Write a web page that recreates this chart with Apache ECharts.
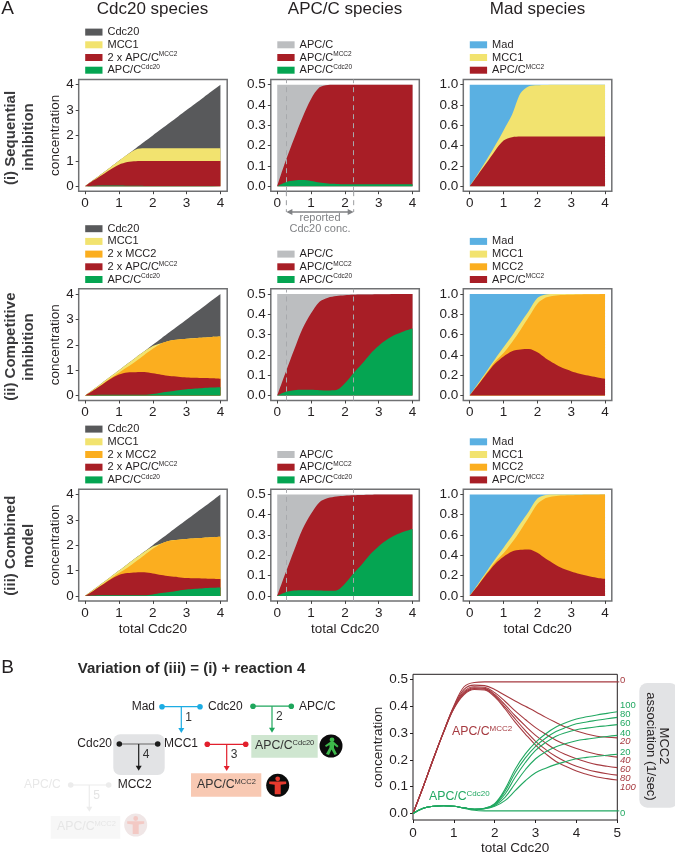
<!DOCTYPE html>
<html><head><meta charset="utf-8">
<style>html,body{margin:0;padding:0;background:#fff}#c{width:675px;height:856px}</style>
<script src="https://cdn.jsdelivr.net/npm/echarts@6/dist/echarts.min.js"></script>
</head><body><div id="c"></div>
<script>
// ---------- shared abscissae ----------
const xs  = [0,.25,.5,.75,1,1.25,1.5,1.75,2,2.25,2.5,2.75,3,3.25,3.5,3.75,4];
const xsB = [0,.25,.5,.75,1,1.25,1.5,1.75,2,2.25,2.5,2.75,3,3.25,3.5,3.75,4,4.25,4.5,4.75,5];
const reportedCdc20 = [.27, 2.26];

// ---------- row (i) ----------
const r1c1Green  = [0,.02,.028,.03,.026,.018,.013,.011,.01,.01,.01,.01,.01,.01,.01,.01,.01];
const r1c1Red    = [0,.21,.417,.63,.824,.937,.972,.979,.98,.98,.98,.98,.98,.98,.98,.98,.98];
const r1c1Yellow = [0,.02,.055,.09,.15,.29,.465,.505,.51,.51,.51,.51,.51,.51,.51,.51,.51];
const r1c1Grey   = [0,0,0,0,0,.005,.05,.255,.5,.75,1,1.25,1.5,1.75,2,2.25,2.5];
const r1c2Green  = [0,.02,.028,.03,.026,.018,.013,.011,.01,.01,.01,.01,.01,.01,.01,.01,.01];
const r1c2Red    = [0,.105,.207,.31,.404,.469,.486,.489,.49,.49,.49,.49,.49,.49,.49,.49,.49];
const r1c2Grey   = [.5,.375,.265,.16,.07,.013,.001,0,0,0,0,0,0,0,0,0,0];
const r1c3Red    = [0,.115,.23,.35,.45,.483,.49,.49,.49,.49,.49,.49,.49,.49,.49,.49,.49];
const r1c3Yellow = [0,.012,.03,.05,.1,.22,.425,.495,.505,.508,.51,.51,.51,.51,.51,.51,.51];
const r1c3Blue   = [1,.873,.74,.6,.45,.297,.085,.015,.005,.002,0,0,0,0,0,0,0];

// ---------- row (ii) ----------
const r2c1Green  = [0,.018,.026,.028,.028,.026,.025,.027,.06,.11,.155,.205,.245,.277,.30,.317,.33];
const r2c1Red    = [0,.19,.40,.62,.80,.885,.895,.898,.815,.71,.61,.535,.465,.418,.385,.36,.33];
const r2c1Orange = [0,0,.01,.03,.07,.21,.43,.675,.965,1.23,1.39,1.465,1.525,1.565,1.598,1.631,1.663];
const r2c1Yellow = [0,.04,.06,.07,.1,.13,.15,.14,.11,.01,.005,.002,.002,.002,.002,.002,.002];
const r2c1Grey   = [0,0,0,0,0,0,0,0,.05,.19,.34,.54,.76,.99,1.215,1.445,1.675];
const r2c2Green  = [0,.018,.026,.028,.028,.026,.025,.027,.06,.11,.155,.205,.245,.277,.30,.317,.33];
const r2c2Red    = [0,.097,.199,.302,.377,.436,.457,.463,.434,.386,.342,.293,.254,.222,.2,.183,.17];
const r2c2Grey   = [.5,.385,.275,.17,.095,.038,.018,.01,.006,.004,.003,.002,.001,.001,0,0,0];
const r2c3Red    = [0,.105,.215,.315,.385,.437,.454,.457,.425,.365,.315,.27,.24,.215,.197,.18,.165];
const r2c3Orange = [0,.003,.01,.02,.035,.088,.191,.318,.48,.6,.668,.72,.753,.78,.8,.818,.835];
const r2c3Yellow = [0,.012,.015,.025,.055,.065,.07,.06,.055,.03,.017,.01,.007,.005,.003,.002,0];
const r2c3Blue   = [1,.88,.76,.64,.525,.41,.285,.165,.04,.005,0,0,0,0,0,0,0];

// ---------- row (iii) ----------
const r3c1Green  = [0,.018,.026,.028,.028,.026,.025,.027,.06,.11,.155,.208,.248,.28,.305,.322,.335];
const r3c1Red    = [0,.19,.40,.62,.80,.875,.9,.905,.825,.715,.615,.532,.457,.415,.38,.35,.325];
const r3c1Orange = [0,0,.01,.03,.07,.21,.43,.675,.975,1.235,1.4,1.47,1.535,1.575,1.61,1.64,1.67];
const r3c1Yellow = [0,.04,.06,.07,.1,.14,.145,.135,.09,.01,.005,.002,.002,.002,.002,.002,.002];
const r3c1Grey   = [0,0,0,0,0,0,0,.005,.05,.18,.325,.54,.76,.98,1.2,1.43,1.67];
const r3c2Green  = [0,.018,.026,.028,.028,.026,.025,.027,.06,.11,.155,.205,.245,.277,.30,.317,.33];
const r3c2Red    = [0,.097,.199,.302,.377,.436,.457,.463,.434,.386,.342,.293,.254,.222,.2,.183,.17];
const r3c2Grey   = [.5,.385,.275,.17,.095,.038,.018,.01,.006,.004,.003,.002,.001,.001,0,0,0];
const r3c3Red    = [0,.105,.215,.315,.385,.437,.454,.457,.425,.365,.315,.27,.24,.215,.197,.18,.168];
const r3c3Orange = [0,.003,.01,.02,.035,.088,.191,.318,.48,.6,.668,.72,.753,.78,.8,.818,.832];
const r3c3Yellow = [0,.012,.015,.025,.055,.065,.07,.06,.055,.03,.017,.01,.007,.005,.003,.002,0];
const r3c3Blue   = [1,.88,.76,.64,.525,.41,.285,.165,.04,.005,0,0,0,0,0,0,0];

// ---------- panel B ----------
const assocRates = [0,20,40,60,80,100];
const mccK0   = [0,.1,.205,.305,.40,.472,.488,.49,.49,.49,.49,.49,.49,.49,.49,.49,.49,.49,.49,.49,.49];
const mccK20  = [0,.1,.205,.305,.398,.462,.478,.476,.462,.44,.419,.399,.379,.358,.339,.321,.307,.296,.288,.284,.2816];
const mccK40  = [0,.1,.205,.305,.396,.455,.472,.47,.45,.418,.382,.35,.32,.295,.273,.256,.242,.23,.221,.215,.21];
const mccK60  = [0,.1,.204,.304,.394,.45,.468,.466,.443,.405,.364,.326,.291,.262,.237,.219,.204,.192,.182,.176,.171];
const mccK80  = [0,.1,.204,.303,.392,.446,.465,.463,.438,.397,.352,.309,.269,.238,.212,.192,.176,.164,.155,.148,.143];
const mccK100 = [0,.1,.203,.302,.39,.443,.462,.46,.434,.39,.34,.296,.255,.222,.194,.175,.158,.146,.136,.13,.125];
const cdcK0   = [0,.02,.027,.029,.027,.02,.012,.01,.01,.01,.01,.01,.01,.01,.01,.01,.01,.01,.01,.01,.01];
const cdcK20  = [0,.02,.027,.029,.027,.021,.016,.018,.027,.048,.085,.122,.152,.169,.183,.194,.204,.209,.213,.217,.221];
const cdcK40  = [0,.02,.027,.029,.027,.021,.016,.018,.03,.06,.112,.163,.204,.23,.249,.261,.271,.277,.282,.287,.291];
const cdcK60  = [0,.02,.027,.029,.027,.021,.016,.019,.033,.072,.135,.19,.235,.265,.288,.302,.312,.318,.323,.327,.331];
const cdcK80  = [0,.02,.027,.029,.027,.021,.016,.019,.035,.082,.152,.207,.25,.281,.305,.321,.334,.341,.347,.353,.358];
const cdcK100 = [0,.02,.027,.029,.027,.021,.016,.02,.037,.09,.165,.222,.265,.297,.322,.339,.352,.36,.367,.373,.379];

// ---------- styling ----------
const FONT = '"Liberation Sans", Arial, sans-serif';
const TXT = '#231f20';
const C = {grey:'#58595b', yellow:'#f2e36f', orange:'#fbae1f', red:'#a81e26', green:'#05a552', lgrey:'#bcbec0', blue:'#5ab0e2'};
const LN_RED='#a63a40', LN_GREEN='#22a862';

const colLeft = [78.7, 270.8, 463.3], colW = 148.5;
const rowTop = [79.5, 288.8, 489.2], rowH = 111.7;
const yExt = [[-.197,4.206,[0,1,2,3,4],0],[-.0247,.5257,[0,.1,.2,.3,.4,.5],1],[-.0493,1.0515,[0,.2,.4,.6,.8,1],1]];

// series: [legend name, colour, values], bottom of pile first
const panels = [
 [[['APC/C^Cdc20',C.green,r1c1Green],['2 x APC/C^MCC2',C.red,r1c1Red],['MCC1',C.yellow,r1c1Yellow],['Cdc20',C.grey,r1c1Grey]],
  [['APC/C^Cdc20',C.green,r1c2Green],['APC/C^MCC2',C.red,r1c2Red],['APC/C',C.lgrey,r1c2Grey]],
  [['APC/C^MCC2',C.red,r1c3Red],['MCC1',C.yellow,r1c3Yellow],['Mad',C.blue,r1c3Blue]]],
 [[['APC/C^Cdc20',C.green,r2c1Green],['2 x APC/C^MCC2',C.red,r2c1Red],['2 x MCC2',C.orange,r2c1Orange],['MCC1',C.yellow,r2c1Yellow],['Cdc20',C.grey,r2c1Grey]],
  [['APC/C^Cdc20',C.green,r2c2Green],['APC/C^MCC2',C.red,r2c2Red],['APC/C',C.lgrey,r2c2Grey]],
  [['APC/C^MCC2',C.red,r2c3Red],['MCC2',C.orange,r2c3Orange],['MCC1',C.yellow,r2c3Yellow],['Mad',C.blue,r2c3Blue]]],
 [[['APC/C^Cdc20',C.green,r3c1Green],['2 x APC/C^MCC2',C.red,r3c1Red],['2 x MCC2',C.orange,r3c1Orange],['MCC1',C.yellow,r3c1Yellow],['Cdc20',C.grey,r3c1Grey]],
  [['APC/C^Cdc20',C.green,r3c2Green],['APC/C^MCC2',C.red,r3c2Red],['APC/C',C.lgrey,r3c2Grey]],
  [['APC/C^MCC2',C.red,r3c3Red],['MCC2',C.orange,r3c3Orange],['MCC1',C.yellow,r3c3Yellow],['Mad',C.blue,r3c3Blue]]]
];

const grids=[],xAxes=[],yAxes=[],series=[],legends=[];
const LEG_STEP = 12.7;
panels.forEach((row,r)=>row.forEach((ps,c)=>{
  const idx=grids.length;
  grids.push({left:colLeft[c],top:rowTop[r],width:colW,height:rowH,show:true,borderColor:'#707173',borderWidth:1.5,backgroundColor:'#fff',containLabel:false});
  xAxes.push({type:'value',gridIndex:idx,min:-.19,max:4.2,splitLine:{show:false},
    axisLine:{show:false,onZero:false},
    axisTick:{length:3,lineStyle:{color:'#444',width:1},customValues:[0,1,2,3,4]},
    axisLabel:{color:TXT,fontSize:13.5,margin:5,customValues:[0,1,2,3,4],formatter:v=>String(v)},
    name:r===2?'total Cdc20':'',nameLocation:'middle',nameGap:21,nameTextStyle:{color:TXT,fontSize:13.5}});
  yAxes.push({type:'value',gridIndex:idx,min:yExt[c][0],max:yExt[c][1],splitLine:{show:false},
    axisLine:{show:false,onZero:false},
    axisTick:{length:3,lineStyle:{color:'#444',width:1},customValues:yExt[c][2]},
    axisLabel:{color:TXT,fontSize:13.5,margin:5,customValues:yExt[c][2],formatter:v=>v.toFixed(yExt[c][3])},
    name:c===0?'concentration':'',nameLocation:'middle',nameGap:12.5,nameTextStyle:{color:TXT,fontSize:13.5}});
  // each band's upper edge is the running sum; the higher bands are drawn first and the lower ones paint over them
  const run=xs.map(()=>0);
  const tops=ps.map(p=>{p[2].forEach((v,k)=>run[k]+=v);return run.slice();});
  for(let i=ps.length-1;i>=0;i--){
    const p=ps[i];
    const s={name:p[0],type:'line',xAxisIndex:idx,yAxisIndex:idx,smooth:.3,
      showSymbol:false,symbol:'none',silent:true,color:p[1],animation:false,
      lineStyle:{width:0},areaStyle:{color:p[1],opacity:1,origin:0},
      data:xs.map((x,k)=>[x,+tops[i][k].toFixed(4)])};
    if(c===1 && i===0){
      s.markLine={silent:true,symbol:'none',animation:false,label:{show:false},z:10,
        lineStyle:{color:'#a7a9ac',type:[5,4],width:1},
        data:reportedCdc20.map(v=>({xAxis:v}))};
    }
    series.push(s);
  }
  const names=ps.map(p=>p[0]).reverse();
  const firstCenter=rowTop[r]-9.3-LEG_STEP*(names.length-1);
  legends.push({orient:'vertical',left:colLeft[c]+6.5,top:firstCenter-LEG_STEP/2,padding:0,itemGap:0,
    itemWidth:17.3,itemHeight:7,icon:'rect',selectedMode:false,data:names,
    textStyle:{color:TXT,fontSize:11,lineHeight:LEG_STEP,
      rich:{a:{fontSize:11,lineHeight:LEG_STEP,color:TXT},s:{fontSize:6.5,lineHeight:LEG_STEP,color:TXT,verticalAlign:'top',padding:[0,0,0,0]}}},
    formatter:n=>{const t=n.split('^');return t[1]?`{a|${t[0]}}{s|${t[1]}}`:`{a|${n}}`;}});
}));

// panel B chart
const bIdx=grids.length;
grids.push({left:413,top:674.3,width:204.3,height:149,show:true,borderColor:'#231f20',borderWidth:1,containLabel:false});
const bTicks=[0,.1,.2,.3,.4,.5];
xAxes.push({type:'value',gridIndex:bIdx,min:0,max:5,interval:1,splitLine:{show:false},axisLine:{show:false,onZero:false},
  axisTick:{length:3,lineStyle:{color:'#231f20'}},axisLabel:{color:TXT,fontSize:13.5,margin:6},
  name:'total Cdc20',nameLocation:'middle',nameGap:21,nameTextStyle:{color:TXT,fontSize:13.5}});
yAxes.push({type:'value',gridIndex:bIdx,min:-.024,max:.5183,splitLine:{show:false},axisLine:{show:false,onZero:false},
  axisTick:{length:3,lineStyle:{color:'#231f20'},customValues:bTicks},
  axisLabel:{color:TXT,fontSize:13.5,margin:5,customValues:bTicks,formatter:v=>v.toFixed(1)},
  name:'concentration',nameLocation:'middle',nameGap:20,nameTextStyle:{color:TXT,fontSize:13.5}});
[mccK0,mccK20,mccK40,mccK60,mccK80,mccK100].forEach((v,i)=>series.push({name:'APC/C MCC2 k='+assocRates[i],type:'line',xAxisIndex:bIdx,yAxisIndex:bIdx,smooth:.4,showSymbol:false,symbol:'none',silent:true,animation:false,lineStyle:{color:LN_RED,width:1.1},data:xsB.map((x,k)=>[x,v[k]])}));
[cdcK0,cdcK20,cdcK40,cdcK60,cdcK80,cdcK100].forEach((v,i)=>series.push({name:'APC/C Cdc20 k='+assocRates[i],type:'line',xAxisIndex:bIdx,yAxisIndex:bIdx,smooth:.4,showSymbol:false,symbol:'none',silent:true,animation:false,lineStyle:{color:LN_GREEN,width:1.1},data:xsB.map((x,k)=>[x,v[k]])}));

const chart=echarts.init(document.getElementById('c'),null,{renderer:'canvas'});
chart.setOption({animation:false,textStyle:{fontFamily:FONT},grid:grids,xAxis:xAxes,yAxis:yAxes,series,legend:legends});

// ---------- annotations and diagram ----------
const g=[];
const T=(x,y,text,o={})=>{g.push({type:'text',x,y,rotation:o.rot||0,z:50,silent:true,style:{text,fill:o.fill||TXT,font:`${o.italic?'italic ':''}${o.bold?'bold ':''}${o.size||12}px ${FONT}`,textAlign:o.align||'center',textVerticalAlign:'middle',verticalAlign:'middle',rich:o.rich}});};
const supT=(x,y,a,b,fill,size=12.3,supSize=7.5,op=1)=>{g.push({type:'text',x,y,z:50,silent:true,style:{text:`{a|${a}}{s|${b}}`,verticalAlign:'middle',textVerticalAlign:'middle',textAlign:'left',
  rich:{a:{fontSize:size,fontFamily:FONT,fill,color:fill,lineHeight:15},s:{fontSize:supSize,fontFamily:FONT,fill,color:fill,lineHeight:15,verticalAlign:'top'}}}});};
const L=(x1,y1,x2,y2,col,w=1.2,dash)=>g.push({type:'line',z:40,silent:true,shape:{x1,y1,x2,y2},style:{stroke:col,lineWidth:w,lineDash:dash}});
const dot=(x,y,col,r=2.8)=>g.push({type:'circle',z:41,silent:true,shape:{cx:x,cy:y,r},style:{fill:col}});
const tri=(pts,col)=>g.push({type:'polygon',z:41,silent:true,shape:{points:pts},style:{fill:col}});
const box=(x1,y1,x2,y2,col,r=0)=>g.push({type:'rect',z:30,silent:true,shape:{x:x1,y:y1,width:x2-x1,height:y2-y1,r},style:{fill:col}});
const rxn=(x1,x2,y,ax,ay2,col,num,line)=>{L(x1,y,x2,y,line||col);L(ax,y,ax,ay2-4,col);tri([[ax-3,ay2-5],[ax+3,ay2-5],[ax,ay2]],col);dot(x1,y,col);dot(x2,y,col);T(ax+7.3,y+10.5,num,{size:12,fill:(col==='#ececec')?'#e4e4e4':'#333'});};

// headings
T(7.5,9,'A',{size:19}); T(7.5,668,'B',{size:19});
T(152.5,9.5,'Cdc20 species',{size:17}); T(345,9.5,'APC/C species',{size:17}); T(537.5,9.5,'Mad species',{size:17});
const RL='#3a3a3c', rot=Math.PI/2;
T(11,138,'(i) Sequential',{bold:1,size:15,rot,fill:RL}); T(29.3,137,'inhibition',{bold:1,size:15,rot,fill:RL});
T(11,346.7,'(ii) Competitive',{bold:1,size:15,rot,fill:RL}); T(29.3,347,'inhibition',{bold:1,size:15,rot,fill:RL});
T(11,545.7,'(iii) Combined',{bold:1,size:15,rot,fill:RL}); T(29.3,546,'model',{bold:1,size:15,rot,fill:RL});

// reported Cdc20 concentration annotation (positions follow the axis)
const px=reportedCdc20.map(v=>chart.convertToPixel({xAxisIndex:1},v));
const ANN='#808285';
px.forEach(p=>L(p,rowTop[0]+rowH,p,212,'#9a9c9f',1,[5,4]));
L(px[0]+5,212,px[1]-5,212,ANN,1.4);
tri([[px[0],212],[px[0]+6,209],[px[0]+6,215]],ANN); tri([[px[1],212],[px[1]-6,209],[px[1]-6,215]],ANN);
T((px[0]+px[1])/2,218,'reported',{size:11,fill:ANN}); T((px[0]+px[1])/2,228.6,'Cdc20 conc.',{size:11,fill:ANN});

// diagram
T(191.5,669,'Variation of (iii) = (i) + reaction 4',{bold:1,size:15,fill:'#2b2b2b'});
box(113.3,734.3,164.7,775,'#e2e3e5',7);
box(251.3,735,317.7,757.7,'#cfe6d0');
box(191,773.3,261.3,796.7,'#f8c9b3');
box(50.7,816,120.3,838.7,'#f7f7f7');
const BL='#1cace3',GN='#1ea65c',RD='#e21f2c',BK='#1c1c1c',FD='#ececec';
T(155,706.7,'Mad',{align:'right'});T(208,706.7,'Cdc20',{align:'left'});T(299,706.7,'APC/C',{align:'left'});
rxn(162,200,706.7,181.3,733,BL,'1');
rxn(253,291.3,706.2,272,732.7,GN,'2');
T(112,744,'Cdc20',{align:'right'});T(164,744,'MCC1',{align:'left'});
rxn(119.3,157.7,744,138.7,770.7,BK,'4','#666');
rxn(207.3,245.7,744.3,226.7,771,RD,'3');
T(117.7,785,'MCC2',{align:'left'});
T(24,785,'APC/C',{align:'left',fill:'#e8e8e8'});
rxn(70.7,108.7,785,89.3,811.7,FD,'5');
supT(255,746,'APC/C','Cdc20','#333');
supT(197,785,'APC/C','MCC2','#333');
supT(57,827,'APC/C','MCC2','#e6e6e6');
// traffic light men
const man=(cx,cy,kind,op=1)=>{
  g.push({type:'circle',z:42,silent:true,shape:{cx,cy,r:11.5},style:{fill:op<1?'#f0e6e6':'#0b0b0b'}});
  const col=kind==='go'?'#3db84a':(op<1?'#f3c9c4':'#e63a2e');
  const head=kind==='go'?[1,-6.2]:[0,-6.5];
  g.push({type:'circle',z:43,silent:true,shape:{cx:cx+head[0],cy:cy+head[1],r:2.4},style:{fill:col}});
  const pts=kind==='go'
    ?[[-1,-4],[3,-4],[7.5,0],[6.3,1.5],[3,-1],[3,2],[6,8],[3.5,9],[.5,3.5],[-2,9],[-5,8],[-1.5,1.5],[-1.5,-1],[-5,1],[-6,-.5]]
    :[[-8.5,-3.8],[8.5,-3.8],[8.5,-1.2],[3,-.6],[3,9],[-3,9],[-3,-.6],[-8.5,-1.2]];
  tri(pts.map(p=>[cx+p[0],cy+p[1]]),col); g[g.length-1].z=43;
};
man(331,746,'go'); man(277.7,785.3,'stop'); man(135.7,825,'stop',.2);

// panel B labels
supT(452,732,'APC/C','MCC2',LN_RED,12.3,8);
supT(429,797,'APC/C','Cdc20',LN_GREEN,12.3,8);
const bx=chart.convertToPixel({xAxisIndex:bIdx},5);
[[.49,LN_RED],[.01,LN_GREEN]].forEach(t=>{const y=chart.convertToPixel({yAxisIndex:bIdx},t[0]);L(bx,y,bx+2,y,t[1],1);});
const greenLab=[[705.7,'100'],[714.3,'80'],[723,'60'],[733.3,'40'],[752.3,'20'],[813.7,'0']];
const redLab=[[680.7,'0'],[741.3,'20'],[760.7,'40'],[769.7,'60'],[778.3,'80'],[787.3,'100']];
greenLab.forEach(l=>T(620,l[0],l[1],{align:'left',size:9.5,fill:LN_GREEN}));
redLab.forEach(l=>T(620,l[0],l[1],{align:'left',size:9.5,fill:LN_RED,italic:l[1]!=='0'}));
box(639.3,683,678,807.7,'#e2e3e5',8);
T(650.5,746.5,'association (1/sec)',{size:13,rot:-Math.PI/2});
T(664,746,'MCC2',{size:13,rot:-Math.PI/2});

chart.setOption({graphic:{elements:g}});
</script></body></html>
